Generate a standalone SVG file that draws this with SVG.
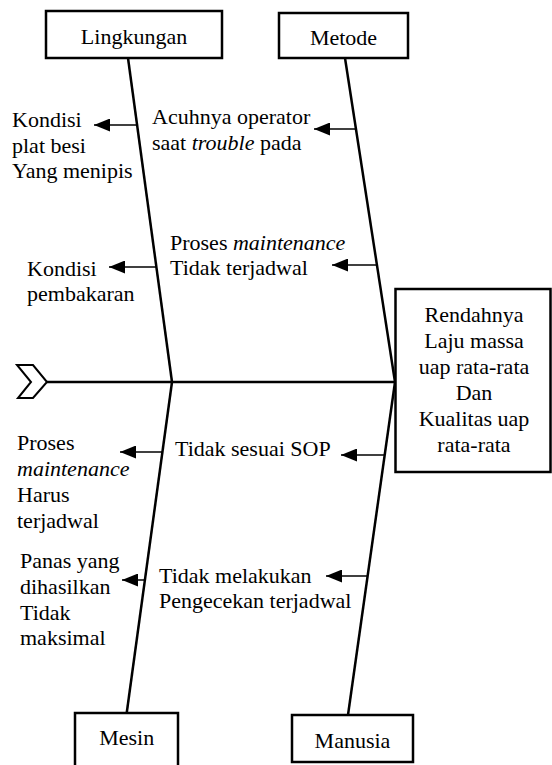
<svg xmlns="http://www.w3.org/2000/svg" width="552" height="765" viewBox="0 0 552 765" font-family="'Liberation Serif', 'Times New Roman', serif" font-size="22">
<style>
text{font-family:'Liberation Serif','Times New Roman',serif;font-size:22px;fill:#000}
.c{text-anchor:middle}
.i{font-style:italic}
.box{fill:#fff;stroke:#000;stroke-width:2.5}
.bone{stroke:#000;stroke-width:2.5;fill:none}
.arr{stroke:#000;stroke-width:1.5;fill:none;marker-end:url(#ah)}
</style>
<defs>
<marker id="ah" markerUnits="userSpaceOnUse" markerWidth="17" markerHeight="13" refX="16" refY="6.5" orient="auto">
<path d="M0,0 L16,6.5 L0,13 Z" fill="#000"/>
</marker>
</defs>
<rect width="552" height="765" fill="#fff"/>
<g id="connectors">
<line class="bone" x1="47" y1="382" x2="396" y2="382"/>
<line class="bone" x1="128" y1="58" x2="172" y2="382"/>
<line class="bone" x1="345" y1="58" x2="395" y2="382"/>
<line class="bone" x1="172" y1="382" x2="126.7" y2="713"/>
<line class="bone" x1="395" y1="382" x2="348" y2="715"/>
<line class="arr" x1="137" y1="125" x2="94" y2="125"/>
<line class="arr" x1="356" y1="129" x2="314" y2="129"/>
<line class="arr" x1="156" y1="267" x2="109" y2="267"/>
<line class="arr" x1="377" y1="265" x2="332" y2="265"/>
<line class="arr" x1="162.4" y1="452" x2="120" y2="452"/>
<line class="arr" x1="384.7" y1="455" x2="341" y2="455"/>
<line class="arr" x1="145" y1="580" x2="122" y2="580"/>
<line class="arr" x1="367.6" y1="576" x2="326" y2="576"/>
</g>
<g id="tail">
<polygon points="17,365 33,365 47,382 33,398 18,398 31,382" fill="#fff" stroke="#000" stroke-width="2"/>
</g>
<g id="lingkungan">
<rect class="box" x="46" y="11" width="176" height="47"/>
<text class="c" x="134" y="44">Lingkungan</text>
</g>
<g id="metode">
<rect class="box" x="279" y="13" width="129" height="45"/>
<text class="c" x="343.5" y="45">Metode</text>
</g>
<g id="mesin">
<rect class="box" x="75" y="713" width="103" height="60"/>
<text class="c" x="126.7" y="745">Mesin</text>
</g>
<g id="manusia">
<rect class="box" x="292" y="715" width="121" height="47"/>
<text class="c" x="352.5" y="748">Manusia</text>
</g>
<g id="effect">
<rect class="box" x="395.5" y="289" width="155" height="183"/>
<text class="c" x="474" y="322">Rendahnya</text>
<text class="c" x="474" y="348">Laju massa</text>
<text class="c" x="474" y="374">uap rata-rata</text>
<text class="c" x="474" y="400">Dan</text>
<text class="c" x="474" y="426">Kualitas uap</text>
<text class="c" x="474" y="452">rata-rata</text>
</g>
<g id="cause-plat">
<text x="12" y="127">Kondisi</text>
<text x="12" y="153">plat besi</text>
<text x="12" y="178">Yang menipis</text>
</g>
<g id="cause-acuh">
<text x="152" y="124">Acuhnya operator</text>
<text x="152" y="150">saat <tspan class="i">trouble</tspan> pada</text>
</g>
<g id="cause-pembakaran">
<text x="27" y="276">Kondisi</text>
<text x="27" y="301">pembakaran</text>
</g>
<g id="cause-proses-metode">
<text x="170" y="250">Proses <tspan class="i">maintenance</tspan></text>
<text x="170" y="275">Tidak terjadwal</text>
</g>
<g id="cause-proses-mesin">
<text x="17" y="450">Proses</text>
<text class="i" x="17" y="476">maintenance</text>
<text x="17" y="502">Harus</text>
<text x="17" y="528">terjadwal</text>
</g>
<g id="cause-sop">
<text x="175" y="456">Tidak sesuai SOP</text>
</g>
<g id="cause-panas">
<text x="20" y="568">Panas yang</text>
<text x="20" y="594">dihasilkan</text>
<text x="20" y="620">Tidak</text>
<text x="20" y="645">maksimal</text>
</g>
<g id="cause-pengecekan">
<text x="159" y="583">Tidak melakukan</text>
<text x="159" y="608">Pengecekan terjadwal</text>
</g>
</svg>
